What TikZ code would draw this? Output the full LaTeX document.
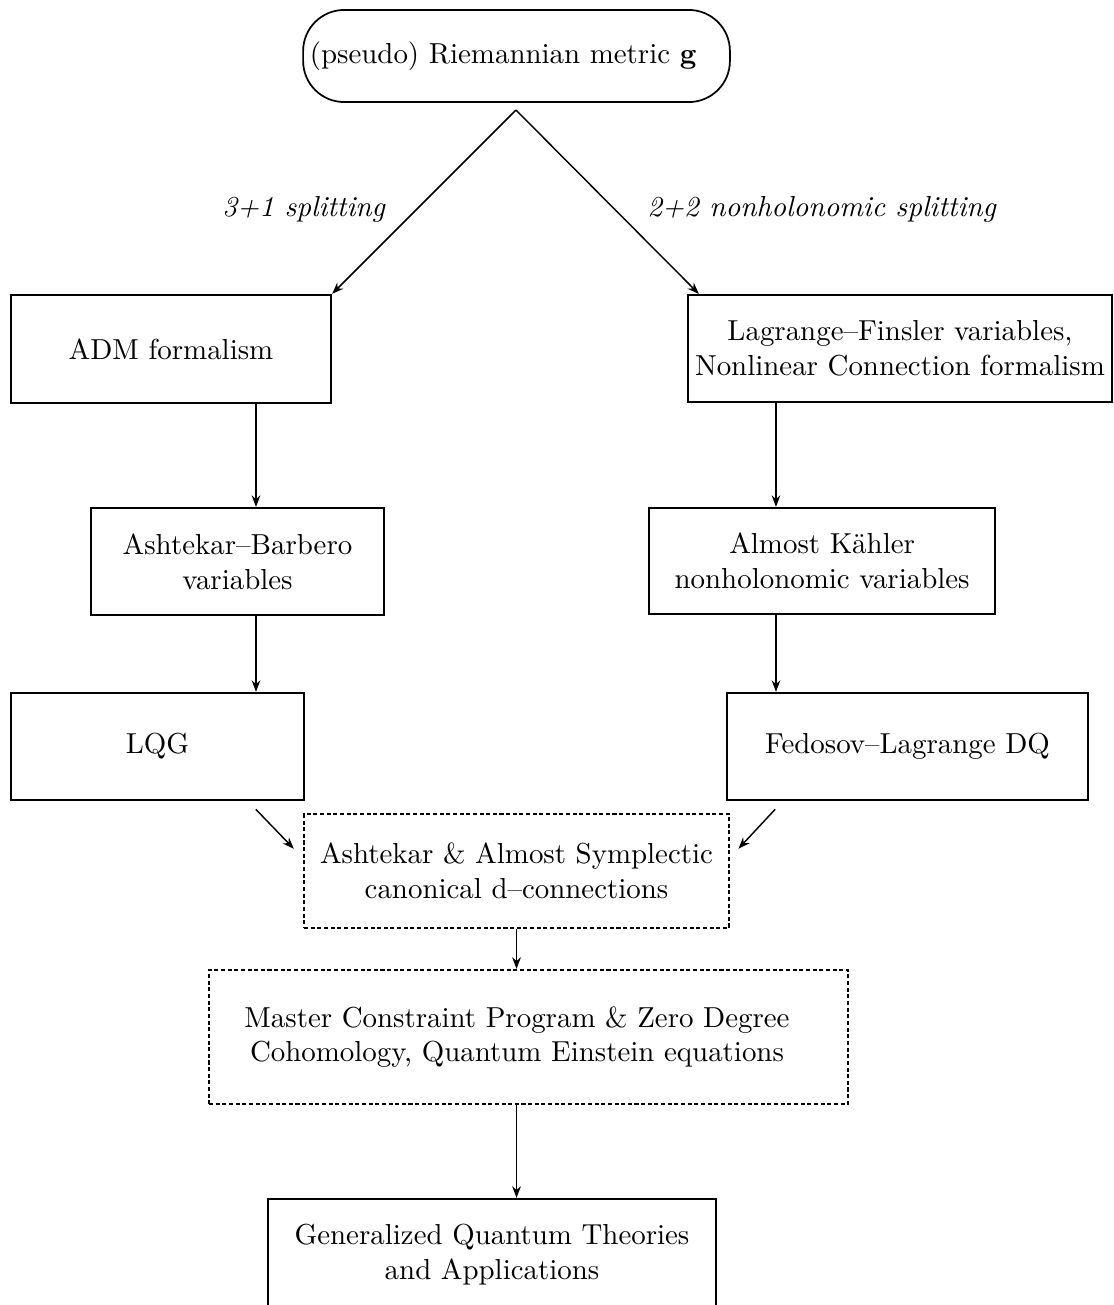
\documentclass[tikz,border=0pt]{standalone}
\usetikzlibrary{arrows.meta}
\begin{document}
\begin{tikzpicture}[>={Stealth[length=4pt,width=3pt]},line width=.5pt,
    box/.style={draw,line width=.8pt,align=center,minimum height=1.3cm},
    dotbox/.style={box,dash pattern=on 1.4pt off .9pt}]
    \useasboundingbox (0,0) rectangle (13.546,-15.869);
    \node[draw,line width=.6pt,rounded corners=.5cm,inner xsep=0pt,minimum width=5.19cm,minimum height=1.12cm] (rm) at (6.281,-.681) {(pseudo) Riemannian metric $\mathbf{g}$\hspace*{.32cm}};
    \coordinate (top) at (6.274,-1.338);
    \coordinate (lcol) at (3.113,0);
    \coordinate (rcol) at (9.436,0);
    \node[box,minimum width=3.891cm,minimum height=1.313cm] (adm) at (2.079,-4.244) {ADM formalism};
    \node[box,inner xsep=1pt,minimum width=5.156cm] (lf) at (10.944,-4.238) {Lagrange--Finsler variables,\\Nonlinear Connection formalism};
    \node[box,minimum width=3.563cm] (ab) at (2.888,-6.828) {Ashtekar--Barbero\\variables};
    \node[box,minimum width=4.207cm,minimum height=1.289cm] (ak) at (9.997,-6.822) {Almost K\"ahler\\nonholonomic variables};
    \node[box,minimum width=3.563cm] (lqg) at (1.915,-9.077) {LQG};
    \node[box,minimum width=4.39cm] (fl) at (11.035,-9.077) {Fedosov--Lagrange DQ};
    \node[dotbox,minimum width=5.168cm,minimum height=1.386cm] (asc) at (6.281,-10.591) {Ashtekar \& Almost Symplectic\\canonical d--connections};
    \node[dotbox,minimum width=7.77cm,minimum height=1.629cm] (mcp) at (6.427,-12.61) {Master Constraint Program \& Zero Degree\hspace*{.28cm}\\Cohomology, Quantum Einstein equations\hspace*{.28cm}};
    \node[box,minimum width=5.448cm,minimum height=1.35cm] (gq) at (5.983,-15.255) {Generalized Quantum Theories\\and Applications};
    \draw[->] (top) -- (adm.north east) node[pos=.54,left=.25cm]{\textit{3+1 splitting}};
    \draw[->] (top) -- ([xshift=.146cm]lf.north west) node[pos=.54,right=.27cm]{\textit{2+2 nonholonomic splitting}};
    \draw[->] (adm.south -| lcol) -- (ab.north -| lcol);
    \draw[->] (ab.south -| lcol) -- (lqg.north -| lcol);
    \draw[->] (lf.south -| rcol) -- (ak.north -| rcol);
    \draw[->] (ak.south -| rcol) -- (fl.north -| rcol);
    \draw[->] ([shift={(-.6,-.1)}]lqg.south east) -- ([shift={(-.11,.27)}]asc.west);
    \draw[->] ([shift={(.6,-.1)}]fl.south west) -- ([shift={(.1,.27)}]asc.east);
    \draw[->] (asc.south) -- (asc.south |- mcp.north);
    \draw[->] (mcp.south -| asc.south) -- (gq.north -| asc.south);
\end{tikzpicture}
\end{document}
